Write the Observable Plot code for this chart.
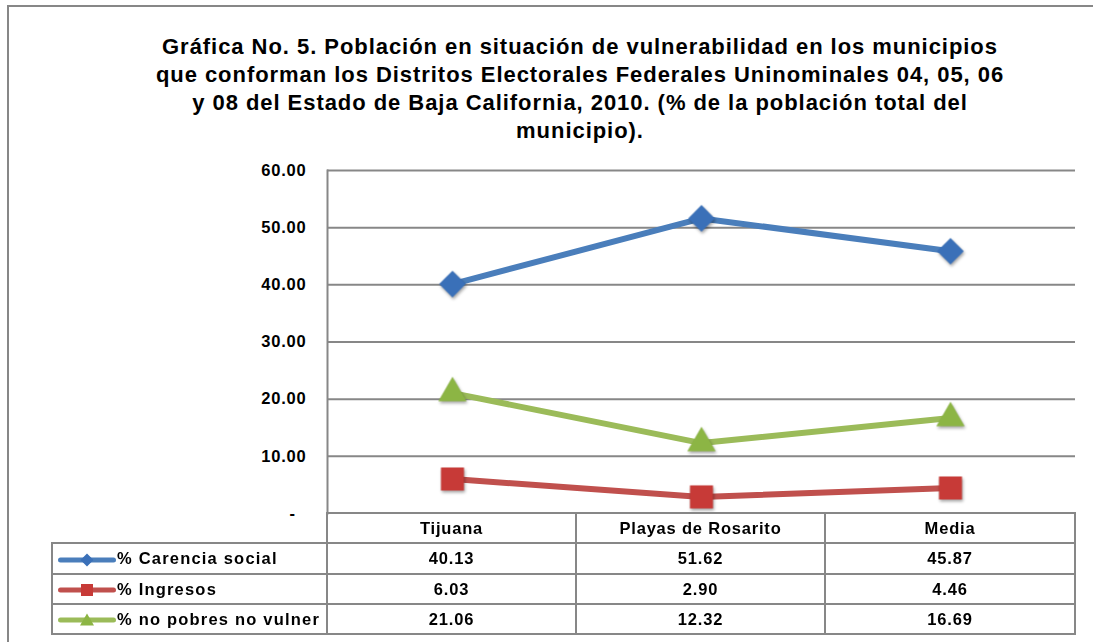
<!DOCTYPE html>
<html>
<head>
<meta charset="utf-8">
<script src="https://cdn.jsdelivr.net/npm/d3@7"></script>
<script src="https://cdn.jsdelivr.net/npm/@observablehq/plot@0.6"></script>
<style>
  body { margin: 0; background: #fff; }
  #wrap { position: relative; width: 1093px; height: 642px; overflow: hidden; background: #fff;
          font-family: Arial, "Liberation Sans", sans-serif; color: #000; }
  #frame { position: absolute; left: 7px; top: 5px; width: 1200px; height: 800px;
           border-left: 2px solid #878787; border-top: 2px solid #878787; }
  #title { position: absolute; left: 80px; width: 1000px; top: 33px; text-align: center;
           font-weight: bold; font-size: 22px; line-height: 28px; letter-spacing: 0.95px; }
  #chart { position: absolute; left: 0; top: 0; }
  #chart text { letter-spacing: 0.8px; }
  #chart g[aria-label="dot"] { filter: drop-shadow(1px 2px 1.5px rgba(0,0,0,0.35)); }
  #tbl { position: absolute; left: 51px; top: 512px; border-collapse: collapse; table-layout: fixed;
         font-weight: bold; font-size: 16.5px; letter-spacing: 0.8px; }
  #tbl td { border: 2px solid #878787; padding: 0; text-align: center; overflow: hidden; white-space: nowrap; }
  #tbl td.lab { text-align: left; padding-left: 5px; letter-spacing: 1.2px; }
  #tbl td.blank { border-top: none; border-left: none; }
  #tbl svg { vertical-align: middle; margin-right: 1px; }
</style>
</head>
<body>
<div id="wrap">
  <div id="frame"></div>
  <div id="chart"></div>
  <div id="title"></div>
  <table id="tbl"></table>
</div>
<script>
// ---- data ----
const titleLines = [
  "Gráfica No. 5. Población en situación de vulnerabilidad en los municipios",
  "que conforman los Distritos Electorales Federales Uninominales 04, 05, 06",
  "y 08 del Estado de Baja California, 2010. (% de la población total del",
  "municipio)."
];
const categories = ["Tijuana", "Playas de Rosarito", "Media"];
const seriesNames = ["% Carencia social", "% Ingresos", "% no pobres no vulner"];
const carenciaSocial = [40.13, 51.62, 45.87];
const ingresos = [6.03, 2.90, 4.46];
const noPobresNoVulner = [21.06, 12.32, 16.69];
const yTicks = [0, 10, 20, 30, 40, 50, 60];

// ---- styles ----
const lineColors = ["#4a7ebb", "#c0504d", "#9bbb59"];
const markerColors = ["#3a70b8", "#c73a37", "#8cb544"];
const symbols = ["diamond2", "square", "triangle"];
const radii = [12, 13, 10.5];

const seriesValues = [carenciaSocial, ingresos, noPobresNoVulner];
const data = [];
seriesNames.forEach((s, i) => categories.forEach((c, j) => data.push({series: s, cat: c, value: seriesValues[i][j]})));

document.getElementById("title").innerHTML = titleLines.join("<br>");

const marks = [
  Plot.gridY(yTicks.filter(d => d > 0), {stroke: "#878787", strokeOpacity: 1, strokeWidth: 2}),
  Plot.frame({anchor: "left", stroke: "#878787", strokeWidth: 2}),
  Plot.axisY(yTicks, {tickSize: 0, tickPadding: 21, fontSize: 16.5, fontWeight: "bold", fill: "#000", label: null,
    tickFormat: d => d === 0 ? "-\u00a0\u00a0" : d.toFixed(2)}),
  Plot.line(data, {x: "cat", y: "value", z: "series", stroke: "series", strokeWidth: 6, strokeLinejoin: "round"})
];
seriesNames.forEach((s, i) => {
  marks.push(Plot.dot(data.filter(d => d.series === s), {
    x: "cat", y: "value", symbol: symbols[i], r: radii[i], fill: markerColors[i], stroke: "none"
  }));
});

const chart = Plot.plot({
  width: 1093, height: 642,
  marginTop: 170, marginBottom: 129, marginLeft: 327, marginRight: 18,
  x: {type: "point", domain: categories, padding: 0.5, axis: null},
  y: {domain: [0, 60], axis: null},
  color: {domain: seriesNames, range: lineColors},
  style: {fontFamily: "Arial, 'Liberation Sans', sans-serif", background: "transparent", overflow: "visible"},
  marks
});
document.getElementById("chart").appendChild(chart);

// ---- data table (legend + values) ----
function swatch(i) {
  const w = 58, h = 16, cx = 29, cy = 8;
  let m;
  if (i === 0) m = `<path d="M${cx},${cy-6.5}L${cx+6.5},${cy}L${cx},${cy+6.5}L${cx-6.5},${cy}Z" fill="${markerColors[0]}"/>`;
  else if (i === 1) m = `<rect x="${cx-6}" y="${cy-6}" width="12" height="12" fill="${markerColors[1]}"/>`;
  else m = `<path d="M${cx},${cy-6.5}L${cx+7},${cy+5.5}L${cx-7},${cy+5.5}Z" fill="${markerColors[2]}"/>`;
  return `<svg width="${w}" height="${h}"><line x1="2.5" x2="${w-2.5}" y1="${cy}" y2="${cy}" stroke="${lineColors[i]}" stroke-width="5" stroke-linecap="round"/>${m}</svg>`;
}
const colW = [275, 249, 249, 250];
const rowH = [30, 31, 30, 30];
let html = "<colgroup>" + colW.map(w => `<col style="width:${w}px">`).join("") + "</colgroup>";
html += `<tr style="height:${rowH[0]}px"><td class="blank"></td>` + categories.map(c => `<td>${c}</td>`).join("") + "</tr>";
seriesNames.forEach((s, i) => {
  html += `<tr style="height:${rowH[i+1]}px"><td class="lab">${swatch(i)}${s}</td>` +
    seriesValues[i].map(v => `<td>${v.toFixed(2)}</td>`).join("") + "</tr>";
});
document.getElementById("tbl").innerHTML = html;
</script>
</body>
</html>
